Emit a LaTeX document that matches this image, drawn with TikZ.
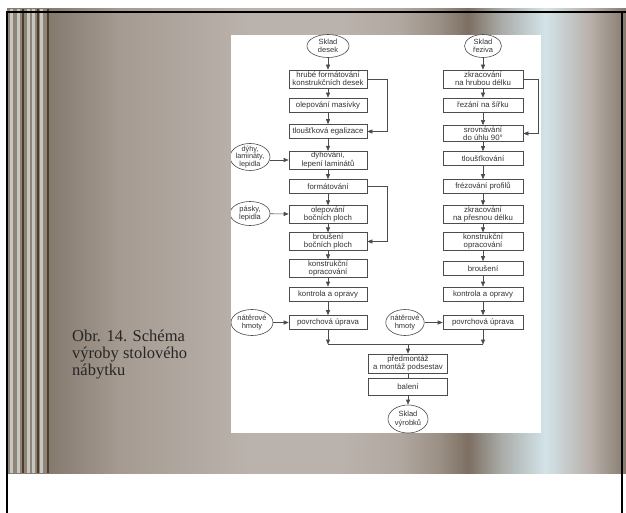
\documentclass[tikz,border=0pt]{standalone}
\usepackage{fontspec}
\setmainfont{Liberation Serif}
\newfontfamily\diagfont{Liberation Sans}
\usetikzlibrary{arrows.meta,shapes.geometric}
\definecolor{lineC}{HTML}{4C4C4C}
\definecolor{txtC}{HTML}{333333}
\definecolor{capC}{HTML}{262626}
\definecolor{g1}{HTML}{857A6E}
\definecolor{g2}{HTML}{A59B92}
\definecolor{g3}{HTML}{BAB2AC}
\definecolor{g4}{HTML}{9A8F84}
\definecolor{g5}{HTML}{7D6F62}
\definecolor{g6}{HTML}{A8AAA6}
\definecolor{g7}{HTML}{D3E3E8}
\definecolor{g8}{HTML}{B8B0AA}
\definecolor{stBase}{HTML}{8E8478}
\definecolor{stLight}{HTML}{C5C7C0}
\definecolor{stDark}{HTML}{4F3D2A}
\pgfdeclarehorizontalshading{slidebg}{100bp}{color(0bp)=(g1); color(28.39bp)=(g1);
  color(34.13bp)=(g2); color(44.63bp)=(g3); color(51.9bp)=(g3); color(56.75bp)=(g3!70!g4);
  color(59.98bp)=(g4); color(62.24bp)=(g5); color(64.82bp)=(g6); color(68.46bp)=(g7);
  color(72.09bp)=(g8); color(75bp)=(g1); color(100bp)=(g1)}
\begin{document}
\begin{tikzpicture}[x=1pt,y=-1pt,
  box/.style={draw=lineC, line width=0.6pt, fill=white, minimum width=78pt, minimum height=14pt,
    inner sep=1pt, align=center, font=\diagfont\fontsize{7.8}{8.3}\selectfont, text=txtC},
  src/.style={ellipse, draw=lineC, line width=0.6pt, fill=white, inner sep=-1pt, align=center,
    font=\diagfont\fontsize{7.5}{8.3}\selectfont, text=txtC},
  flow/.style={draw=lineC, line width=0.6pt, -{Triangle[length=5pt,width=4pt]}},
  link/.style={draw=lineC, line width=0.6pt},
  captext/.style={anchor=base west, inner sep=0pt, text=capC, font=\fontsize{16.5}{17}\selectfont}
]
\useasboundingbox (0,0) rectangle (626,513);
\fill[white] (0,0) rectangle (626,513);
% background gradient
\shade[shading=slidebg] (7,9) rectangle (626,473);
% stripes
\fill[stBase] (7,9) rectangle (49,473);
\foreach \a/\b in {10/13,17/20,27/30,32/35,40/43}{\fill[stLight] (\a,9) rectangle (\b,473);}
\foreach \a/\b in {22/24,37/39,47/49}{\fill[stDark] (\a,9) rectangle (\b,473);}
% frame
\draw[black, line width=2pt] (7,513) -- (7,12) -- (626,12);
\draw[black, line width=2pt] (622,12) -- (622,513);
% caption
\node[captext] (c1) at (72,341) {Obr. 14. Schéma};
\node[captext] (c2) at (72,358) {výroby stolového};
\node[captext] (c3) at (72,375) {nábytku};
% white picture area
\fill[white] (231,35) rectangle (541,433);
\begin{scope}
\clip (231,35) rectangle (541,433);
% left column
\node[src, minimum width=42pt, minimum height=23pt] (sd) at (328,46) {Sklad\\desek};
\node[box, minimum height=18pt] (L1) at (328,79) {hrubé formátování\\konstrukčních desek};
\node[box] (L2) at (328,105) {olepování masivky};
\node[box] (L3) at (328,131.5) {tloušťková egalizace};
\node[box] (L4) at (328,160) {dýhování,\\lepení laminátů};
\node[box] (L5) at (328,186.5) {formátování};
\node[box] (L6) at (328,214.5) {olepování\\bočních ploch};
\node[box] (L7) at (328,241.5) {broušení\\bočních ploch};
\node[box] (L8) at (328,268.5) {konstrukční\\opracování};
\node[box] (L9) at (328,294) {kontrola a opravy};
\node[box] (L10) at (328,322.5) {povrchová úprava};
% right column
\node[src, minimum width=37pt, minimum height=23pt] (sr) at (483,46) {Sklad\\řeziva};
\node[box, minimum width=80pt, minimum height=18pt] (R1) at (483,79) {zkracování\\na hrubou délku};
\node[box, minimum width=80pt] (R2) at (483,105) {řezání na šířku};
\node[box, minimum width=80pt] (R3) at (483,133.5) {srovnávání\\do úhlu 90°};
\node[box, minimum width=80pt] (R4) at (483,158.5) {tloušťkování};
\node[box, minimum width=80pt] (R5) at (483,186.5) {frézování profilů};
\node[box, minimum width=80pt] (R6) at (483,214.5) {zkracování\\na přesnou délku};
\node[box, minimum width=80pt] (R7) at (483,241.5) {konstrukční\\opracování};
\node[box, minimum width=80pt] (R8) at (483,268.5) {broušení};
\node[box, minimum width=80pt] (R9) at (483,294) {kontrola a opravy};
\node[box, minimum width=80pt] (R10) at (483,322.5) {povrchová úprava};
% side inputs
\node[src, minimum width=40pt, minimum height=27pt, inner sep=-2pt,
  font=\diagfont\fontsize{7.3}{7.8}\selectfont] (e1) at (250,157) {dýhy,\\lamináty,\\lepidla};
\node[src, minimum width=40pt, minimum height=24pt] (e2) at (250,213.5) {pásky,\\lepidla};
\node[src, minimum width=42pt, minimum height=26pt] (e3) at (252,322.5) {nátěrové\\hmoty};
\node[src, minimum width=38pt, minimum height=26pt] (e4) at (405,322.5) {nátěrové\\hmoty};
% bottom
\node[box, minimum width=79pt, minimum height=19pt] (P) at (408,363.5) {předmontáž\\a montáž podsestav};
\node[box, minimum width=79pt, minimum height=17pt] (B) at (408,387) {balení};
\node[src, minimum width=40pt, minimum height=28pt] (sv) at (408,419) {Sklad\\výrobků};
\coordinate (mM) at (408,344.5);
% connectors
\draw[flow] (sd) -- (L1);
\foreach \u/\v in {L1/L2,L2/L3,L3/L4,L4/L5,L5/L6,L6/L7,L7/L8,L8/L9,L9/L10}{\draw[flow] (\u) -- (\v);}
\foreach \u/\v in {R1/R2,R2/R3,R3/R4,R4/R5,R5/R6,R6/R7,R7/R8,R8/R9,R9/R10}{\draw[flow] (\u) -- (\v);}
\draw[flow] (sr) -- (R1);
% feedback loops
\draw[flow] (L1.east) -- ++(20,0) |- (L3.east);
\draw[flow] (L5.east) -- ++(20,0) |- (L7.east);
\draw[flow] (R1.east) -- ++(15,0) |- (R3.east);
% side inputs
\draw[flow] (e1.east |- L4.west) -- (L4.west);
\draw[flow] (e2) -- (L6);
\draw[flow] (e3) -- (L10);
\draw[flow] (e4) -- (R10);
% merge
\draw[flow] (L10.south) -- (L10.south |- mM);
\draw[flow] (R10.south) -- (R10.south |- mM);
\draw[link] (L10.south |- mM) -- (R10.south |- mM);
\draw[flow] (mM) -- (P.north);
\draw[link] (P) -- (B);
\draw[flow] (B) -- (sv);
\end{scope}
\end{tikzpicture}
\end{document}
